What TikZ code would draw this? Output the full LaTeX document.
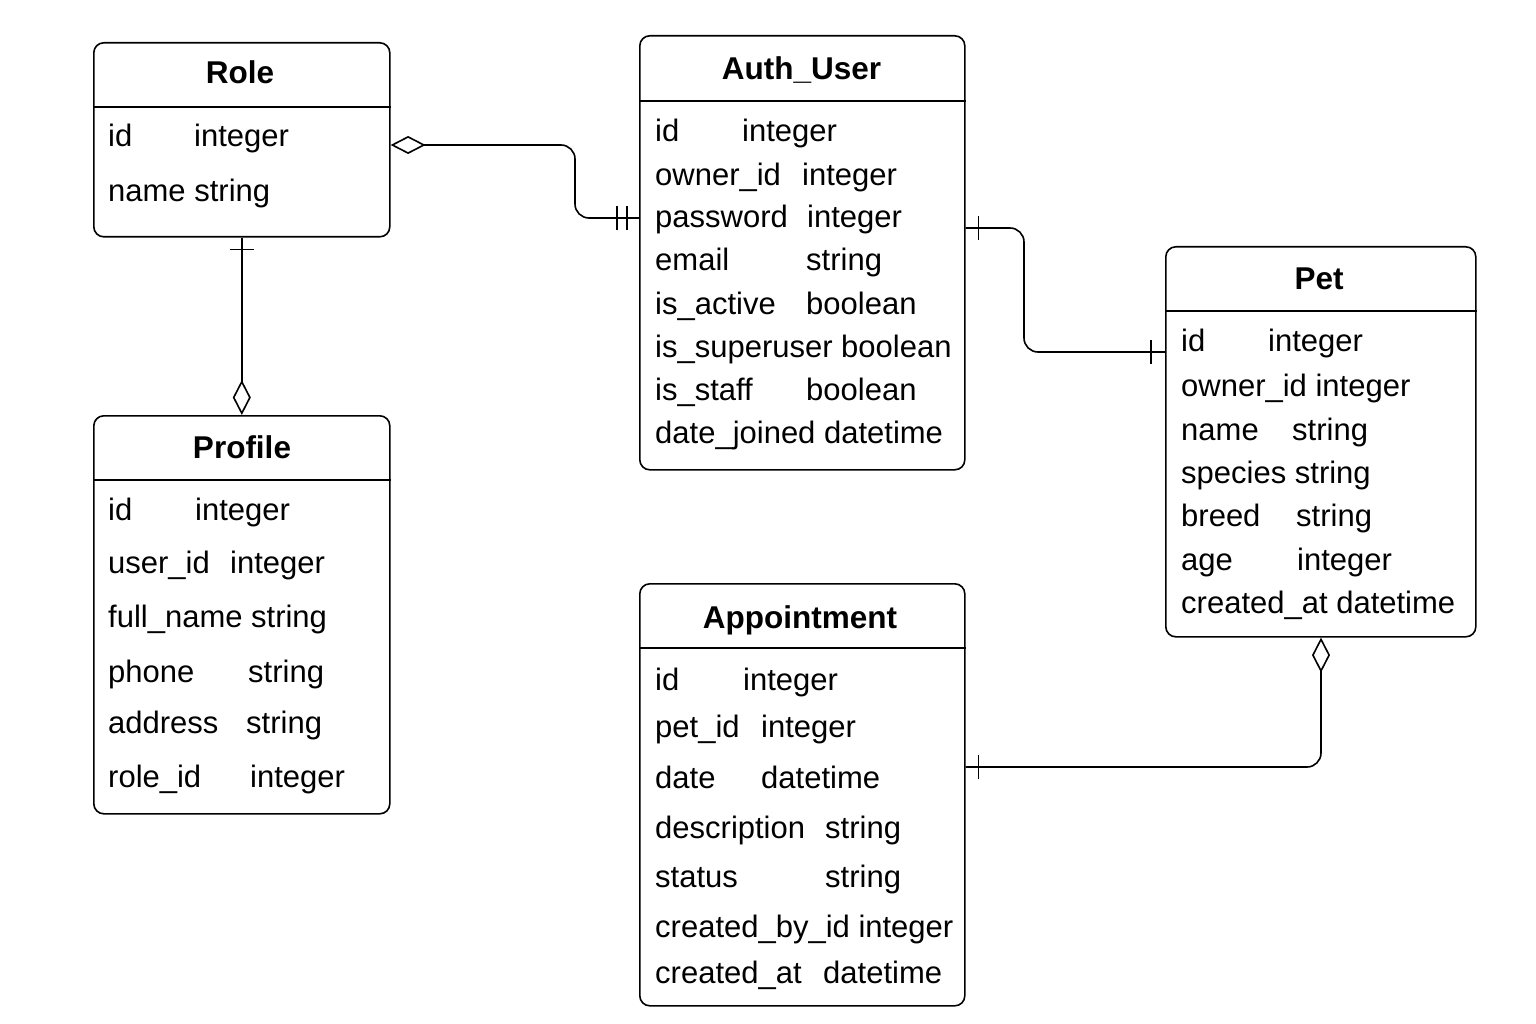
\documentclass[tikz,border=0pt]{standalone}
\usepackage{fontspec}
\setmainfont{Liberation Sans}
\usetikzlibrary{arrows.meta, decorations.markings}

\begin{document}
\begin{tikzpicture}[x=1pt, y=-1pt]

        % Setup the styles for tables, fields and links
        \tikzset{table/.style={draw,
                               line width=1.6pt,
                               rounded corners=10pt,
                               anchor=north west,
                               inner sep=0pt},
                 title/.style={anchor=base, inner sep=0pt,
                               font=\fontsize{31.5}{36}\selectfont\bfseries},
                 fld/.style={anchor=base west, inner sep=0pt,
                             font=\fontsize{31}{36}\selectfont},
                 link/.style={line width=1.6pt, rounded corners=14pt},
                 tick/.style={postaction={decorate,
                              decoration={markings,
                                 mark=at position #1 with {\draw[arrows=-, line width=1.4pt] (0pt,-12pt) -- (0pt,12pt);}}}},
                 agg/.tip={Diamond[open, length=35pt, width=18pt]}}

        \fill[white] (0,0) rectangle (1536,1024);
        \useasboundingbox (0,0) rectangle (1536,1024);

        % Draw the tables
        \node[table, minimum width=296pt, minimum height=194pt] at (93,42)   (role)    {};
        \node[table, minimum width=325pt, minimum height=434pt] at (639,35)  (auth)    {};
        \node[table, minimum width=310pt, minimum height=390pt] at (1165,246) (pet)    {};
        \node[table, minimum width=296pt, minimum height=398pt] at (93,415)  (profile) {};
        \node[table, minimum width=325pt, minimum height=422pt] at (639,583) (appt)    {};

        % Header lines
        \draw[line width=1.6pt] (role.west |- 0,107)    -- (role.east |- 0,107);
        \draw[line width=1.6pt] (auth.west |- 0,101)    -- (auth.east |- 0,101);
        \draw[line width=1.6pt] (pet.west |- 0,311)     -- (pet.east |- 0,311);
        \draw[line width=1.6pt] (profile.west |- 0,480) -- (profile.east |- 0,480);
        \draw[line width=1.6pt] (appt.west |- 0,648)    -- (appt.east |- 0,648);

        % Titles
        \node[title] at (240,84)    (roleT)    {Role};
        \node[title] at (801.5,80)  (authT)    {Auth\_User};
        \node[title] at (1319,290)  (petT)     {Pet};
        \node[title] at (242,458)   (profileT) {Profile};
        \node[title] at (800,628)   (apptT)    {Appointment};

        % Role fields
        \node[fld] at (108,147) (r1)  {id};
        \node[fld] at (194,147) (r1t) {integer};
        \node[fld] at (108,202) (r2)  {name string};

        % Auth_User fields
        \node[fld] at (655,142) (a1)  {id};
        \node[fld] at (742,142) (a1t) {integer};
        \node[fld] at (655,186) (a2)  {owner\_id};
        \node[fld] at (802,186) (a2t) {integer};
        \node[fld] at (655,228) (a3)  {password};
        \node[fld] at (807,228) (a3t) {integer};
        \node[fld] at (655,271) (a4)  {email};
        \node[fld] at (806,271) (a4t) {string};
        \node[fld] at (655,314) (a5)  {is\_active};
        \node[fld] at (806,314) (a5t) {boolean};
        \node[fld] at (655,357) (a6)  {is\_superuser boolean};
        \node[fld] at (655,400) (a7)  {is\_staff};
        \node[fld] at (806,400) (a7t) {boolean};
        \node[fld] at (655,443) (a8)  {date\_joined datetime};

        % Pet fields
        \node[fld] at (1181,351) (p1)  {id};
        \node[fld] at (1268,351) (p1t) {integer};
        \node[fld] at (1181,396) (p2)  {owner\_id integer};
        \node[fld] at (1181,440) (p3)  {name};
        \node[fld] at (1292,440) (p3t) {string};
        \node[fld] at (1181,483) (p4)  {species string};
        \node[fld] at (1181,526) (p5)  {breed};
        \node[fld] at (1296,526) (p5t) {string};
        \node[fld] at (1181,570) (p6)  {age};
        \node[fld] at (1297,570) (p6t) {integer};
        \node[fld] at (1181,613) (p7)  {created\_at datetime};

        % Profile fields
        \node[fld] at (108,520) (f1)  {id};
        \node[fld] at (195,520) (f1t) {integer};
        \node[fld] at (108,573) (f2)  {user\_id};
        \node[fld] at (230,573) (f2t) {integer};
        \node[fld] at (108,627) (f3)  {full\_name string};
        \node[fld] at (108,682) (f4)  {phone};
        \node[fld] at (248,682) (f4t) {string};
        \node[fld] at (108,733) (f5)  {address};
        \node[fld] at (246,733) (f5t) {string};
        \node[fld] at (108,787) (f6)  {role\_id};
        \node[fld] at (250,787) (f6t) {integer};

        % Appointment fields
        \node[fld] at (655,690) (e1)  {id};
        \node[fld] at (743,690) (e1t) {integer};
        \node[fld] at (655,737) (e2)  {pet\_id};
        \node[fld] at (761,737) (e2t) {integer};
        \node[fld] at (655,788) (e3)  {date};
        \node[fld] at (761,788) (e3t) {datetime};
        \node[fld] at (655,838) (e4)  {description};
        \node[fld] at (825,838) (e4t) {string};
        \node[fld] at (655,887) (e5)  {status};
        \node[fld] at (825,887) (e5t) {string};
        \node[fld] at (655,937) (e6)  {created\_by\_id integer};
        \node[fld] at (655,983) (e7)  {created\_at};
        \node[fld] at (823,983) (e7t) {datetime};

        % Connect the tables
        \draw[link, agg-, tick=-12pt, tick=-22pt]
            (role.east |- 0,145) -- (575,145) -- (575,218) -- (auth.west |- 0,218);
        \draw[link, -agg, tick=12pt]
            (role.south) -- (profile.north);
        \draw[link, tick=13pt, tick=-14pt]
            (auth.east |- 0,228) -- (1024,228) -- (1024,352) -- (pet.west |- 0,352);
        \draw[link, -agg, tick=13pt]
            (appt.east |- 0,767) -- (1321,767) -- (pet.south -| 1321,0);
\end{tikzpicture}
\end{document}
